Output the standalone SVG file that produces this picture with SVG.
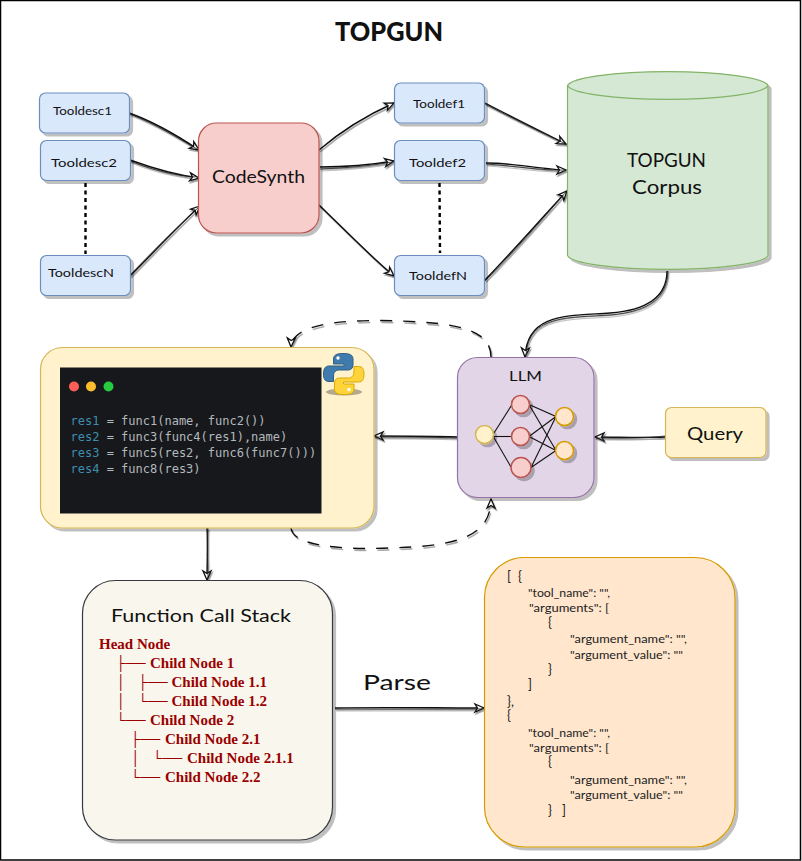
<svg xmlns="http://www.w3.org/2000/svg" width="802" height="861" viewBox="0 0 802 861">
<style>
.hand{font-family:"Lato","Noto Sans",sans-serif;fill:#111}
.desc{font-size:12px}
.blue{fill:#dae8fc;stroke:#6c8ebf;stroke-width:1.2}
.c{fill:none;stroke:#111;stroke-width:1.4}
.c2{fill:none;stroke:#222;stroke-width:.8}
.d{fill:none;stroke:#111;stroke-width:1.4;stroke-dasharray:12 11}
.dot{fill:none;stroke:#000;stroke-width:2.4;stroke-dasharray:4 3.5}
.link{stroke:#111;stroke-width:1.1}
.red{fill:#f8cecc;stroke:#b85450;stroke-width:1.5}
.inp{fill:#fff2cc;stroke:#d6b656;stroke-width:1.5}
.out{fill:#ffe6cc;stroke:#d79b00;stroke-width:1.5}
.code{font-family:"DejaVu Sans Mono",monospace;font-size:12px;fill:#b4b9bd}
.kw{fill:#3f8eb0}
.tree{font-family:"Liberation Serif",serif;font-weight:bold;font-size:15px;fill:#990000}
.bx{font-size:14px}
.json{font-family:"Lato","Noto Sans",sans-serif;font-size:11px;fill:#222}
.br{font-size:13px}
</style>
<defs>
<filter id="sh" x="-10%" y="-10%" width="125%" height="125%"><feDropShadow dx="3" dy="3" stdDeviation="0" flood-color="#000" flood-opacity=".25"/></filter>
<filter id="lsh" x="-20%" y="-20%" width="140%" height="140%"><feDropShadow dx="1.2" dy="1.8" stdDeviation="0.2" flood-color="#000" flood-opacity=".4"/></filter>
<marker id="a" markerUnits="userSpaceOnUse" markerWidth="14" markerHeight="12" refX="10" refY="5" orient="auto" overflow="visible"><path d="M1 1 L10 5 L1 9 L3.500 5 Z" fill="#fff" stroke="#111" stroke-width="1.300"/></marker>
</defs>
<rect x="0.500" y="0.500" width="800" height="859.500" fill="#fff" stroke="#000" stroke-width="1.500"/>
<text id="title" class="hand" x="389" y="41" text-anchor="middle" font-size="26" font-weight="900" textLength="108" lengthAdjust="spacingAndGlyphs">TOPGUN</text>

<g id="connectors">
<g filter="url(#lsh)">
<path class="c" marker-end="url(#a)" d="M129 113C155 122 178 136 199 150"/><path class="c2" d="M129 113.500C157 125 176 137 197 149"/>
<path class="c" marker-end="url(#a)" d="M130 160C152 168 176 175 199 178"/><path class="c2" d="M130 161C152 170 176 176 197 177"/>
<path class="c" marker-end="url(#a)" d="M130 276C152 254 176 228 200 206"/><path class="c2" d="M130 275C152 252 175 229 198 208"/>
<path class="c" marker-end="url(#a)" d="M319 150C340 132 365 116 394 103"/>
<path class="c" marker-end="url(#a)" d="M320 167C345 167 370 165 394 161"/><path class="c2" d="M320 169C345 168 370 166 392 162"/>
<path class="c" marker-end="url(#a)" d="M319 205C345 230 370 256 394 276"/>
<path class="c" marker-end="url(#a)" d="M485 103C512 117 540 131 566 144"/><path class="c2" d="M485 104C512 118 540 132 564 143"/>
<path class="c" marker-end="url(#a)" d="M486 163C515 163 545 170 566 170"/><path class="c2" d="M486 164C515 166 545 171 564 170"/>
<path class="c" marker-end="url(#a)" d="M485 280C512 252 540 220 567 191"/><path class="c2" d="M485 281C512 254 540 222 566 192"/>
<path class="c" marker-end="url(#a)" d="M667 271C667 295 650 310 610 313C570 316 527 312 525 357"/><path class="c2" d="M668 271C667 297 651 311 611 315C570 318 528 314 526 355"/>
<path class="c" marker-end="url(#a)" d="M458 437C430 436 400 436 374 436"/><path class="c2" d="M458 438C430 437 400 437 376 437"/>
<path class="c" marker-end="url(#a)" d="M665 437C640 438 620 437 595 437"/><path class="c2" d="M665 436C640 439 620 438 597 438"/>
<path class="c" marker-end="url(#a)" d="M207 528C208 545 207 560 207 580"/><path class="c2" d="M208 528C207 545 208 560 208 578"/>
<path class="c" marker-end="url(#a)" d="M335 708C385 707 435 708 484 708"/><path class="c2" d="M335 709C385 709 435 709 482 709"/>
<path class="d" marker-end="url(#a)" d="M491 357C491 335 470 325 420 322C370 319 292 318 291 347"/>
<path class="d" marker-end="url(#a)" d="M291 528C293 546 340 550 390 548C450 546 491 540 491 499"/>
</g>
<path class="dot" d="M85.500 183L85.500 254"/>
<path class="dot" d="M439.500 183L440 253"/>
</g>

<g id="tooldesc1"><rect class="blue" x="39.500" y="93" width="90" height="40" rx="6" filter="url(#sh)"/><text class="hand desc" x="53" y="115" textLength="59" lengthAdjust="spacingAndGlyphs">Tooldesc1</text></g>
<g id="tooldesc2"><rect class="blue" x="40.500" y="140.500" width="90" height="40" rx="6" filter="url(#sh)"/><text class="hand desc" x="51" y="167" textLength="66" lengthAdjust="spacingAndGlyphs">Tooldesc2</text></g>
<g id="tooldescN"><rect class="blue" x="40.500" y="255.500" width="90" height="40" rx="6" filter="url(#sh)"/><text class="hand desc" x="48" y="277" textLength="66" lengthAdjust="spacingAndGlyphs">TooldescN</text></g>
<g id="codesynth"><rect x="198.500" y="123" width="120.500" height="110" rx="18" fill="#f8cecc" stroke="#b85450" stroke-width="1.200" filter="url(#sh)"/><text class="hand" x="212" y="183" font-size="18" textLength="93" lengthAdjust="spacingAndGlyphs">CodeSynth</text></g>
<g id="tooldef1"><rect class="blue" x="394.500" y="83" width="90" height="40" rx="6" filter="url(#sh)"/><text class="hand desc" x="413" y="108" textLength="52" lengthAdjust="spacingAndGlyphs">Tooldef1</text></g>
<g id="tooldef2"><rect class="blue" x="394.500" y="140.500" width="90" height="40" rx="6" filter="url(#sh)"/><text class="hand desc" x="409" y="167" textLength="57" lengthAdjust="spacingAndGlyphs">Tooldef2</text></g>
<g id="tooldefN"><rect class="blue" x="394.500" y="255.500" width="90" height="40" rx="6" filter="url(#sh)"/><text class="hand desc" x="409" y="280" textLength="58" lengthAdjust="spacingAndGlyphs">TooldefN</text></g>
<g id="corpus">
<path d="M567.500 85.500A100.500 15 0 0 1 768 85.500L768 255.500A100.500 15 0 0 1 567.500 255.500Z" fill="#d5e8d4" stroke="#82b366" stroke-width="1.200" filter="url(#sh)"/>
<path d="M567.500 85.500A100.500 15 0 0 0 768 85.500" fill="none" stroke="#82b366" stroke-width="1.200"/>
<text class="hand" x="627" y="167" font-size="20" textLength="79" lengthAdjust="spacingAndGlyphs">TOPGUN</text>
<text class="hand" x="632" y="194" font-size="20" textLength="70" lengthAdjust="spacingAndGlyphs">Corpus</text>
</g>
<g id="code">
<rect x="40.500" y="347.500" width="333.500" height="180.500" rx="22" fill="#fff2cc" stroke="#d6b656" stroke-width="1.200" filter="url(#sh)"/>
<rect x="60" y="367.500" width="261.500" height="146" fill="#16181c"/>
<circle cx="74" cy="386.500" r="5" fill="#ff5f56"/><circle cx="91" cy="386.500" r="5" fill="#ffbd2e"/><circle cx="108.500" cy="386.500" r="5" fill="#27c93f"/>
<text class="code" x="70.500" y="424.500"><tspan class="kw">res1</tspan> = func1(name, func2())</text>
<text class="code" x="70.500" y="440.500"><tspan class="kw">res2</tspan> = func3(func4(res1),name)</text>
<text class="code" x="70.500" y="456.500"><tspan class="kw">res3</tspan> = func5(res2, func6(func7()))</text>
<text class="code" x="70.500" y="472.500"><tspan class="kw">res4</tspan> = func8(res3)</text>
<ellipse cx="344" cy="392" rx="18" ry="3.500" fill="#000" opacity=".3"/>
<path id="py" d="M343 353.500C336 353.500 333.500 355.500 333.500 359L333.500 364L344 364L344 366L329 366C325 366 323.500 369 323.500 374C323.500 379 325 381.500 329 381.500L333.500 381.500L333.500 376C333.500 372 336 370 339 370L348 370C351 370 353 368 353 365L353 359C353 355 350 353.500 343 353.500Z" fill="#3f7cad" stroke="#2f5f88"/>
<path d="M344.500 394.500C351.500 394.500 354 392.500 354 389L354 384L343.500 384L343.500 382L358.500 382C362.500 382 364 379 364 374C364 369 362.500 366.500 358.500 366.500L354 366.500L354 372C354 376 351.500 378 348.500 378L339.500 378C336.500 378 334.500 380 334.500 383L334.500 389C334.500 393 337.500 394.500 344.500 394.500Z" fill="#ffd43b" stroke="#dba900"/>
<circle cx="338" cy="358" r="1.700" fill="#fff"/><circle cx="349" cy="389.500" r="1.700" fill="#fff"/>
</g>
<g id="llm">
<rect x="457.500" y="357.500" width="136.500" height="140" rx="20" fill="#e1d5e7" stroke="#9673a6" stroke-width="1.200" filter="url(#sh)"/>
<text class="hand" x="525.500" y="381" font-size="14" text-anchor="middle" textLength="33" lengthAdjust="spacingAndGlyphs">LLM</text>
<g>
<line class="link" x1="493" y1="434.500" x2="512" y2="404.500"/><line class="link" x1="493" y1="436.500" x2="512" y2="436.500"/><line class="link" x1="493" y1="436" x2="511" y2="467"/>
<line class="link" x1="529" y1="404.500" x2="556" y2="416.500"/><line class="link" x1="529" y1="404.500" x2="556" y2="450.500"/>
<line class="link" x1="529" y1="436.500" x2="556" y2="416.500"/><line class="link" x1="529" y1="436.500" x2="556" y2="450.500"/>
<line class="link" x1="531" y1="467.500" x2="556" y2="416.500"/><line class="link" x1="531" y1="467.500" x2="556" y2="450.500"/>
</g>
<g filter="url(#sh)">
<circle class="inp" cx="484.500" cy="434.500" r="9"/>
<circle class="red" cx="520.500" cy="404.500" r="9"/><circle class="red" cx="520.500" cy="436.500" r="9"/><circle class="red" cx="521" cy="467.500" r="10"/>
<circle class="out" cx="564.500" cy="416.500" r="9"/><circle class="out" cx="564.500" cy="450.500" r="9"/>
</g>
</g>
<g id="query"><rect x="665.500" y="407.500" width="100.500" height="50" rx="6" fill="#fff2cc" stroke="#d6b656" stroke-width="1.200" filter="url(#sh)"/><text class="hand" x="687" y="440" font-size="18" textLength="56" lengthAdjust="spacingAndGlyphs">Query</text></g>
<g id="stack">
<rect x="82.500" y="580.500" width="250" height="259.500" rx="33" fill="#f9f7ed" stroke="#36393d" stroke-width="1.200" filter="url(#sh)"/>
<text class="hand" x="111" y="622" font-size="18" textLength="180" lengthAdjust="spacingAndGlyphs">Function Call Stack</text>
<text class="tree" x="99" y="649">Head Node</text>
<text class="tree" y="668"><tspan class="bx" x="116">├──</tspan> <tspan x="150">Child Node 1</tspan></text>
<text class="tree" y="687"><tspan class="bx" x="116">│</tspan> <tspan class="bx" x="138">├──</tspan> <tspan x="171.500">Child Node 1.1</tspan></text>
<text class="tree" y="706"><tspan class="bx" x="116">│</tspan> <tspan class="bx" x="138">└──</tspan> <tspan x="171.500">Child Node 1.2</tspan></text>
<text class="tree" y="725"><tspan class="bx" x="116">└──</tspan> <tspan x="150">Child Node 2</tspan></text>
<text class="tree" y="744"><tspan class="bx" x="130.500">├──</tspan> <tspan x="165">Child Node 2.1</tspan></text>
<text class="tree" y="763"><tspan class="bx" x="130.500">│</tspan> <tspan class="bx" x="152.500">└──</tspan> <tspan x="187">Child Node 2.1.1</tspan></text>
<text class="tree" y="782"><tspan class="bx" x="130.500">└──</tspan> <tspan x="165">Child Node 2.2</tspan></text>
</g>
<text id="parse" class="hand" x="363" y="690" font-size="22" textLength="68" lengthAdjust="spacingAndGlyphs">Parse</text>
<g id="json">
<rect x="484.500" y="557.500" width="250.500" height="289.500" rx="40" fill="#ffe6cc" stroke="#d79b00" stroke-width="1.200" filter="url(#sh)"/>
<text class="json br" x="507" y="581" textLength="15" lengthAdjust="spacing">[ {</text>
<text class="json" x="528" y="597" textLength="82" lengthAdjust="spacingAndGlyphs">"tool_name": "",</text>
<text class="json" x="529" y="612" textLength="80" lengthAdjust="spacingAndGlyphs">"arguments": [</text>
<text class="json br" x="548" y="627">{</text>
<text class="json" x="570" y="643" textLength="117" lengthAdjust="spacingAndGlyphs">"argument_name": "",</text>
<text class="json" x="570" y="659" textLength="113" lengthAdjust="spacingAndGlyphs">"argument_value": ""</text>
<text class="json br" x="548" y="674">}</text>
<text class="json br" x="528" y="689">]</text>
<text class="json br" x="507" y="706">},</text>
<text class="json br" x="507" y="720">{</text>
<text class="json" x="528" y="737" textLength="82" lengthAdjust="spacingAndGlyphs">"tool_name": "",</text>
<text class="json" x="529" y="752" textLength="80" lengthAdjust="spacingAndGlyphs">"arguments": [</text>
<text class="json br" x="548" y="766">{</text>
<text class="json" x="570" y="784" textLength="117" lengthAdjust="spacingAndGlyphs">"argument_name": "",</text>
<text class="json" x="570" y="799" textLength="113" lengthAdjust="spacingAndGlyphs">"argument_value": ""</text>
<text class="json br" x="548" y="815" textLength="18" lengthAdjust="spacing">} ]</text>
</g>
</svg>
